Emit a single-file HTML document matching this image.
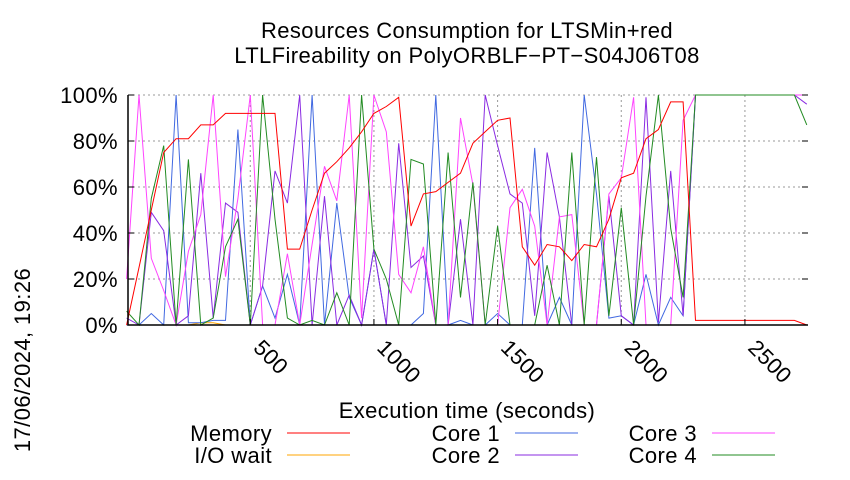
<!DOCTYPE html>
<html><head><meta charset="utf-8"><style>
body{margin:0;background:#fff;width:850px;height:475px;overflow:hidden}
svg text{font-family:"Liberation Sans",sans-serif;fill:#000;letter-spacing:0.4px}
</style></head><body>
<svg id="c" width="850" height="475" xmlns="http://www.w3.org/2000/svg">
<text x="467" y="38" font-size="22" text-anchor="middle">Resources Consumption for LTSMin+red</text>
<text x="467" y="63" font-size="22" text-anchor="middle">LTLFireability on PolyORBLF−PT−S04J06T08</text>
<text x="467" y="418" font-size="22" text-anchor="middle">Execution time (seconds)</text>
<text transform="translate(30,360) rotate(-90)" font-size="22" text-anchor="middle">17/06/2024, 19:26</text>
<g id="grid"></g>
<g id="series"></g>
<g id="axes"></g>
<g id="legend"></g>
</svg>
<script>
const times = [];
for (let i = 0; i <= 55; i++) times.push(i * 50);
const memory = [0,25,50,75,81,81,87,87,92,92,92,92,92,33,33,50,66,71,77,84,92,95,99,43,57,58,62,66,79,84,89,90,34,26,35,34,28,35,34,46,64,66,81,85,97,97,2,2,2,2,2,2,2,2,2,0];
const core1 = [0,0,5,0,100,1,1,2,2,85,0,17,3,22,0,100,0,53,12,0,33,0,0,0,5,100,0,2,0,0,5,0,0,77,0,12,0,100,57,3,4,0,22,0,12,4,100,100,100,100,100,100,100,100,100,100];
const core2 = [3,0,49,41,0,4,66,3,53,49,0,17,67,53,100,0,56,0,13,0,33,0,79,25,30,0,0,46,0,100,78,57,53,4,75,47,0,0,0,56,4,0,99,1,67,4,100,100,100,100,100,100,100,100,100,96];
const core3 = [20,100,29,15,0,32,48,100,21,55,100,0,0,31,0,35,69,54,100,3,100,84,22,14,34,0,0,90,61,0,0,51,59,43,0,47,48,0,0,57,64,99,0,0,0,89,100,100,100,100,100,100,100,100,100,100];
const core4 = [6,0,55,78,0,72,0,3,34,46,0,100,46,3,0,2,0,14,0,100,33,20,0,72,70,0,75,12,62,0,43,0,0,0,26,0,75,0,73,4,51,0,56,100,42,12,100,100,100,100,100,100,100,100,100,87];
const iowait = [0,0,0,0,0,0,1,1,0,0,0,0,0,0,0,0,0,0,0,0,0,0,0,0,0,0,0,0,0,0,0,0,0,0,0,0,0,0,0,0,0,0,0,0,0,0,0,0,0,0,0,0,0,0,0,0];
const xTicks = [500,1000,1500,2000,2500];
const yTicks = [0,20,40,60,80,100];
const yTickLabels = ["0%","20%","40%","60%","80%","100%"];
const X0=128,X1=808,Y0=325,Y1=95,TMAX=2755;
const xs=t=>126.6+t*(X1-126.6)/TMAX;
const ys=v=>Y0-v*(Y0-Y1)/100;
const NS="http://www.w3.org/2000/svg";
function mk(tag,attrs,parent){const e=document.createElementNS(NS,tag);for(const k in attrs)e.setAttribute(k,attrs[k]);parent.appendChild(e);return e;}
const grid=document.getElementById('grid'),axes=document.getElementById('axes'),ser=document.getElementById('series'),leg=document.getElementById('legend');
yTicks.forEach((v,i)=>{
  const l=mk('line',{x1:X0,x2:X1,y1:ys(v),y2:ys(v),stroke:'#999','stroke-dasharray':'2,3','stroke-width':1},grid);
  
  
  const t=mk('line',{x1:X0,x2:X0+6,y1:ys(v),y2:ys(v),stroke:'#000'},axes);
  
  
  const t2=mk('line',{x1:X1-6,x2:X1,y1:ys(v),y2:ys(v),stroke:'#000'},axes);
  
  
  const tx=mk('text',{x:118,y:ys(v)+8,'font-size':22,'text-anchor':'end'},axes);
  tx.textContent=yTickLabels[i];
  
  
});
xTicks.forEach(v=>{
  const x=xs(v);
  const l=mk('line',{x1:x,x2:x,y1:Y1,y2:Y0,stroke:'#999','stroke-dasharray':'2,3','stroke-width':1},grid);
  
  
  const t=mk('line',{x1:x,x2:x,y1:Y0-6,y2:Y0,stroke:'#000'},axes);
  
  
  const tx=mk('text',{transform:`translate(${x+2},${Y0+24}) rotate(45)`,'font-size':22},axes);
  tx.textContent=v;
  
  
});
const series=[
 ['memory','Memory',memory,'#ff0000'],
 ['iowait','I/O wait',iowait,'#ffa500'],
 ['core1','Core 1',core1,'#4169e1'],
 ['core2','Core 2',core2,'#8a2be2'],
 ['core3','Core 3',core3,'#ff44ff'],
 ['core4','Core 4',core4,'#228b22']];
const drawOrder=[1,2,3,4,5,0];
drawOrder.forEach(i=>{
  const [id,,data,col]=series[i];
  const p=mk('polyline',{points:data.map((v,j)=>xs(times[j]).toFixed(1)+','+ys(v).toFixed(1)).join(' '),fill:'none',stroke:col,'stroke-width':1},ser);
  
  
});
const b=mk('path',{d:`M${X0},${Y1}V${Y0}H${X1}`,fill:'none',stroke:'#000','stroke-width':1.5},axes);


const legPos=[[272,441],[272,463],[500,441],[500,463],[697,441],[697,463]];
series.forEach((s,i)=>{
  const [x,y]=legPos[i];
  const t=mk('text',{x:x,y:y,'font-size':22,'text-anchor':'end'},leg);
  t.textContent=s[1];
  
  
  const l=mk('line',{x1:x+15,x2:x+78,y1:y-8,y2:y-8,stroke:s[3],'stroke-width':1},leg);
  
  
});
</script>
</body></html>
